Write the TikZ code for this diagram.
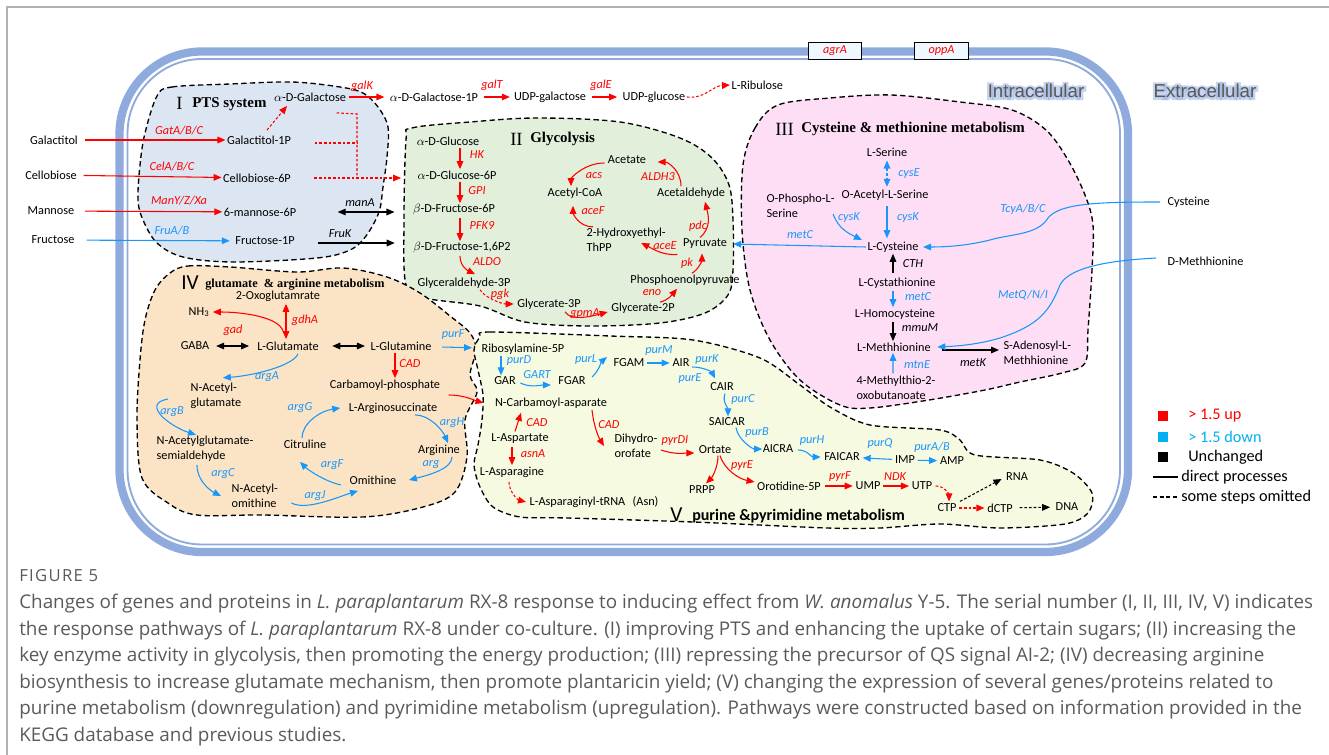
\documentclass[tikz,border=0pt]{standalone}
\usepackage{fontspec}
\setmainfont{Carlito}
\newfontfamily\serifb{Liberation Serif}
\newfontfamily\arialf{Liberation Sans}
\newfontfamily\arialglow[FakeBold=25]{Liberation Sans}
\newfontfamily\capf{Open Sans}
\newfontfamily\capfs[LetterSpace=8]{Open Sans}
\usetikzlibrary{arrows.meta,calc}
\definecolor{cblue}{RGB}{25,150,250}
\definecolor{band}{RGB}{143,170,220}
\definecolor{regI}{RGB}{220,230,243}
\definecolor{regII}{RGB}{226,239,218}
\definecolor{regIII}{RGB}{254,222,244}
\definecolor{regIV}{RGB}{251,228,198}
\definecolor{regV}{RGB}{245,250,224}
\definecolor{capgray}{RGB}{90,90,90}
\definecolor{legcyan}{RGB}{0,176,240}
\definecolor{ttlgray}{RGB}{90,90,90}
\definecolor{boxfill}{RGB}{240,248,255}
\newcommand\fs{\fontsize{9.2}{11}\selectfont}
\tikzset{
 t/.style={font=\fs, inner sep=1pt},
 gr/.style={font=\fs\itshape, text=red, inner sep=1pt},
 gb/.style={font=\fs\itshape, text=cblue, inner sep=1pt},
 gk/.style={font=\fs\itshape, inner sep=1pt},
 ar/.style={red, line width=0.8pt, -{Triangle[length=6pt,width=5pt]}},
 ab/.style={cblue, line width=0.8pt, -{Triangle[length=6pt,width=5pt]}},
 ak/.style={black, line width=0.8pt, -{Triangle[length=6pt,width=5pt]}},
 akk/.style={black, line width=0.8pt, {Triangle[length=6pt,width=5pt]}-{Triangle[length=6pt,width=5pt]}},
 arr/.style={red, line width=0.8pt, {Triangle[length=6pt,width=5pt]}-{Triangle[length=6pt,width=5pt]}},
 abbd/.style={cblue, line width=0.8pt, dash pattern=on 2pt off 1.5pt, {Triangle[length=6pt,width=5pt]}-{Triangle[length=6pt,width=5pt]}},
 ard/.style={ar, dash pattern=on 2pt off 1.5pt},
 akd/.style={ak, dash pattern=on 2pt off 1.5pt},
 rd/.style={red, line width=0.8pt, dash pattern=on 2pt off 1.5pt},
 regborder/.style={draw=black, line width=1pt, dash pattern=on 4pt off 2.5pt},
 ttl/.style={font=\serifb\bfseries\fontsize{11.2}{12}\selectfont, inner sep=0pt, anchor=west},
 rom/.style={font=\serifb\fontsize{14}{14}\selectfont, inner sep=0pt, anchor=west},
 legtxt/.style={font=\fontsize{12.2}{13}\selectfont, inner sep=0pt, anchor=west},
 captxt/.style={font=\capf\fontsize{14.15}{16}\selectfont, text=capgray, inner sep=0pt, anchor=west},
 genebox/.style={draw=black, fill=boxfill, line width=0.6pt, minimum width=40pt, minimum height=12.75pt, inner sep=0pt, font=\fs\itshape, text=red},
 side/.style={font=\arialf\fontsize{14}{14}\selectfont, text=ttlgray, inner sep=0pt},
 sideglow/.style={font=\arialglow\fontsize{14}{14}\selectfont, text=band, opacity=0.5, inner sep=0pt}
}
\begin{document}
\begin{tikzpicture}[x=0.75pt,y=-0.75pt]
\useasboundingbox (0,0) rectangle (1329,755);
% frame
\draw[gray!60, line width=1.2pt] (7,755) -- (7,7) -- (1329,7);
% cell
\draw[band, line width=6.2pt, rounded corners=62pt] (119.5,51.5) rectangle (1128,552);
\draw[band, line width=1.4pt, rounded corners=56pt] (127.5,59) rectangle (1120,544.5);
\node[genebox] (agra) at (835,50.5) {agrA};
\node[genebox] (oppa) at (941.5,50.5) {oppA};
% labels intra/extra
\node[sideglow] (intraglow) at (1036,91) {Intracellular};
\node[sideglow] (extraglow) at (1205,91) {Extracellular};
\node[side] (intra) at (1036,91) {Intracellular};
\node[side] (extra) at (1205,91) {Extracellular};

% ===== regions =====
\draw[regborder, fill=regI] plot[smooth cycle, tension=0.55] coordinates {(157,96) (172,87) (230,84) (292,82) (340,87) (363,93) (378,107) (388,127) (387,157) (383,187) (379,212) (366,236) (350,250) (317,258) (233,262) (183,257) (157,243) (143,220) (138,200) (140,165) (145,133)};
\draw[regborder, fill=regII] plot[smooth cycle, tension=0.55] coordinates {(406,140) (412,128) (470,122) (537,118) (620,122) (680,138) (712,158) (729,185) (733,220) (733,270) (728,295) (705,313) (660,323) (590,326) (525,322) (480,306) (425,298) (406,285) (404,220)};
\draw[regborder, fill=regIII] plot[smooth cycle, tension=0.55] coordinates {(743,165) (755,128) (778,105) (830,98) (891,95) (960,102) (1012,110) (1046,130) (1068,160) (1085,195) (1093,225) (1092,270) (1088,330) (1085,363) (1062,373) (1020,382) (985,390) (929,400) (870,408) (840,405) (800,380) (770,340) (750,290) (742,230)};
\draw[regborder, fill=regIV] plot[smooth cycle, tension=0.55] coordinates {(170,273) (188,266) (230,267) (297,272) (343,268) (387,277) (420,293) (450,316) (470,333) (476,350) (470,375) (477,392) (465,420) (467,457) (455,492) (423,507) (363,517) (263,515) (197,515) (168,503) (142,478) (137,420) (140,360) (145,320) (155,290)};
\draw[regborder, fill=regV] plot[smooth cycle, tension=0.5] coordinates {(480,337) (490,332) (610,336) (693,340) (760,358) (800,385) (830,407) (870,425) (940,430) (960,440) (975,455) (1040,460) (1073,473) (1092,493) (1088,513) (1065,524) (1000,528) (940,524) (880,528) (827,528) (693,522) (567,518) (520,517) (493,507) (480,487) (474,465) (478,445) (482,420) (483,395) (478,370) (474,350)};

% ===== titles =====
\node[rom] (tI) at (176,103) {I};
\node[ttl] (tIt) at (192,104) {PTS system};
\node[rom] (tII) at (510,139) {II};
\node[ttl] (tIIt) at (530,139) {Glycolysis};
\node[rom] (tIII) at (775,129) {III};
\node[ttl] (tIIIt) at (801,129) {Cysteine \& methionine metabolism};
\node[font=\fontsize{16}{16}\selectfont, inner sep=0pt, anchor=west] (tIV) at (181,283) {IV};
\node[font=\serifb\bfseries\fontsize{9.2}{10}\selectfont, inner sep=0pt, anchor=west] (tIVt) at (205,285) {glutamate \ \& arginine metabolism};
\node[font=\fontsize{16}{16}\selectfont, inner sep=0pt, anchor=west] (tV) at (670,515) {V};
\node[font=\bfseries\fontsize{12}{12}\selectfont, inner sep=0pt, anchor=west] (tVt) at (692,516) {purine \&pyrimidine metabolism};

% ===== Region I =====
\node[t] (galactitol) at (54,140) {Galactitol};
\node[t] (cellobiose) at (51,175) {Cellobiose};
\node[t] (mannose) at (51,211) {Mannose};
\node[t] (fructose) at (53,240) {Fructose};
\node[t] (agal) at (310,97) {$\alpha$-D-Galactose};
\node[t] (gal1p) at (259,140) {Galactitol-1P};
\node[t] (cel6p) at (257,178) {Cellobiose-6P};
\node[t] (man6p) at (260,212) {6-mannose-6P};
\node[t] (fru1p) at (265,241) {Fructose-1P};
\node[gr] (gGat) at (179,131) {GatA/B/C};
\node[gr] (gCel) at (172,167) {CelA/B/C};
\node[gr] (gMan) at (179,201) {ManY/Z/Xa};
\node[gb] (gFru) at (172,231) {FruA/B};
\node[gk] (gmanA) at (360,203) {manA};
\node[gk] (gFruK) at (340,234) {FruK};
\node[gr] (ggalK) at (362,86) {galK};
% top chain
\node[t] (ga1p) at (434,97) {$\alpha$-D-Galactose-1P};
\node[t] (udpgal) at (550,97) {UDP-galactose};
\node[t] (udpglc) at (654,97) {UDP-glucose};
\node[t,anchor=west] (ribu) at (730,85) {L-Ribulose};
\node[gr] (ggalT) at (492,85) {galT};
\node[gr] (ggalE) at (601,85) {galE};

\draw[ar, shorten <=4pt] (galactitol) -- (gal1p);
\draw[ar, shorten <=4pt] (cellobiose) -- (cel6p);
\draw[ar, shorten <=7pt] (mannose) -- (man6p);
\draw[ab, shorten <=8pt, shorten >=3pt] (fructose) -- (fru1p);
\draw[ar, shorten <=1pt, shorten >=3pt] (agal) -- (ga1p);
\draw[ar, shorten <=3pt, shorten >=2pt] (ga1p) -- (udpgal);
\draw[ar, shorten <=3pt, shorten >=3pt] (udpgal) -- (udpglc);
\draw[ard] (udpglc.east) .. controls (705,99) and (712,86) .. (ribu.west);
\draw[ard] ($(gal1p.north)+(8,-4)$) -- ($(agal.south)+(-23,3)$);
\coordinate (j1) at (357,114);
\coordinate (j2) at (357,143);
\coordinate (j3) at (357,178);
\draw[rd] ($(agal.south east)+(-11,10)$) -- (j1) -- (j3);
\draw[rd] ($(gal1p.east)+(22,3)$) -- (j2);

% ===== Region II =====
\node[t] (aglc) at (448,141) {$\alpha$-D-Glucose};
\node[t] (glc6p) at (457,175) {$\alpha$-D-Glucose-6P};
\node[t] (fru6p) at (454,210) {$\beta$-D-Fructose-6P};
\node[t] (fbp) at (462,248) {$\beta$-D-Fructose-1,6P2};
\node[t] (g3p) at (464,283) {Glyceraldehyde-3P};
\node[t] (gly3p) at (549,304) {Glycerate-3P};
\node[t] (gly2p) at (643,308) {Glycerate-2P};
\node[t] (pep) at (685,280) {Phosphoenolpyruvate};
\node[t] (pyr) at (705,244) {Pyruvate};
\node[t,align=left,anchor=west] (hethpp) at (585,240) {2-Hydroxyethyl-\\ThPP};
\node[t] (acoa) at (575,193) {Acetyl-CoA};
\node[t] (acet) at (627,160) {Acetate};
\node[t] (acald) at (691,193) {Acetaldehyde};
\node[gr] (gHK) at (477,155) {HK};
\node[gr] (gGPI) at (477,191) {GPI};
\node[gr] (gPFK) at (482,226) {PFK9};
\node[gr] (gALDO) at (487,262) {ALDO};
\node[gr] (gpgk) at (500,294) {pgk};
\node[gr] (ggpmA) at (585,314) {gpmA};
\node[gr] (geno) at (652,293) {eno};
\node[gr] (gpk) at (687,263) {pk};
\node[gr] (gaceE) at (665,246) {aceE};
\node[gr] (gaceF) at (593,211) {aceF};
\node[gr] (gacs) at (594,176) {acs};
\node[gr] (gALDH) at (658,177) {ALDH3};
\node[gr] (gpdc) at (698,226) {pdc};

\draw[ard] ($(cel6p.east)+(22,0)$) -- ($(glc6p.west)+(-15,3)$);
\draw[akk] ($(man6p.east)+(40,0)$) -- ($(fru6p.west)+(-17,2)$);
\draw[ak] ($(fru1p.east)+(22,2)$) -- ($(fbp.west)+(-17,-5)$);

\draw[ar] ($(aglc.south)+(12,1)$) -- ($(glc6p.north)+(3,0)$);
\draw[ar] ($(glc6p.south)+(3,1)$) -- ($(fru6p.north)+(6,0)$);
\draw[ar] ($(fru6p.south)+(6,1)$) -- ($(fbp.north)+(-2,0)$);
\draw[ar] ($(fbp.south)+(-2,1)$) .. controls +(0,10) and +(-8,-4) .. ($(g3p.north)+(11,-2)$);
\draw[ard] ($(g3p.south)+(16,0)$) .. controls +(5,8) and +(-12,0) .. ($(gly3p.west)+(-2,0)$);
\draw[ar] ($(gly3p.south)+(16,1)$) .. controls +(6,10) and +(-15,4) .. ($(gly2p.west)+(-2,4)$);
\draw[ar] ($(gly2p.north)+(17,1)$) .. controls +(8,-2) and +(-5,6) .. ($(pep.south)+(-8,2)$);
\draw[ar] ($(pep.north)+(7,0)$) .. controls +(6,-3) and +(0,7) .. ($(pyr.south)+(-3,3)$);
\draw[ar] ($(pyr.south west)+(-4,4)$) .. controls +(-15,1) and +(12,6) .. ($(hethpp.east)+(-26,3)$);
\draw[ar] ($(hethpp.north west)+(8,0)$) .. controls +(-15,0) and +(0,7) .. ($(acoa.south)+(-2,6)$);
\draw[ar] ($(acet.west)+(-2,3)$) .. controls +(-20,0) and +(0,-8) .. ($(acoa.north)+(-4,0)$);
\draw[ar] ($(acald.north)+(-10,0)$) .. controls +(0,-16) and +(10,0) .. ($(acet.east)+(10,2)$);
\draw[ar] ($(pyr.north)+(-5,0)$) .. controls +(12,-10) and +(3,12) .. ($(acald.south)+(14,2)$);

% ===== Region III =====
\node[t] (lser) at (887,152) {L-Serine};
\node[t] (oas) at (885,195) {O-Acetyl-L-Serine};
\node[t,align=left,anchor=west] (ops) at (765,206) {O-Phospho-L-\\Serine};
\node[t] (lcys) at (893,247) {L-Cysteine};
\node[t] (lcysta) at (897,283) {L-Cystathionine};
\node[t] (lhcys) at (895,314) {L-Homocysteine};
\node[t] (lmet) at (894,347) {L-Methhionine};
\node[t,align=left,anchor=west] (mtob) at (855,388) {4-Methylthio-2-\\oxobutanoate};
\node[t,align=left,anchor=west] (sam) at (1002,353) {S-Adenosyl-L-\\Methhionine};
\node[t,anchor=west] (cysx) at (1166,202) {Cysteine};
\node[t,anchor=west] (dmet) at (1166,261) {D-Methhionine};
\node[gb] (gcysE) at (909,174) {cysE};
\node[gb] (gcysK1) at (849,218) {cysK};
\node[gb] (gcysK2) at (908,218) {cysK};
\node[gb] (gTcy) at (1023,209) {TcyA/B/C};
\node[gb] (gmetC1) at (800,235) {metC};
\node[gk] (gCTH) at (913,264) {CTH};
\node[gb] (gmetC2) at (918,297) {metC};
\node[gk] (gmmuM) at (920,328) {mmuM};
\node[gb] (gmtnE) at (917,365) {mtnE};
\node[gk] (gmetK) at (973,363) {metK};
\node[gb] (gMetQ) at (1023,295) {MetQ/N/I};

\draw[abbd, shorten <=2pt, shorten >=1pt] (lser.south) -- ($(oas.north)+(2,0)$);
\draw[ab] ($(ops.east)+(-3,8)$) .. controls +(5,15) and +(-12,-6) .. ($(lcys.west)+(-4,-7)$);
\draw[ab, shorten <=3pt] ($(oas.south)+(2,0)$) -- ($(lcys.north)+(-6,-2)$);
\draw[ab, shorten >=2pt] (lcys.west) -- ($(pyr.east)+(2,0)$);
\draw[ak, shorten <=2pt] ($(lcysta.north)+(-4,0)$) -- (lcys.south);
\draw[ab, shorten <=1pt] ($(lcysta.south)+(-4,0)$) -- ($(lhcys.north)+(-2,0)$);
\draw[ak, shorten <=1pt] ($(lhcys.south)+(-2,0)$) -- ($(lmet.north)+(-1,0)$);
\draw[ab, shorten <=1pt] ($(mtob.north)+(-3,0)$) -- ($(lmet.south)+(-1,0)$);
\draw[ak] ($(lmet.east)+(10,3)$) -- ($(sam.west)+(-3,-3)$);
\draw[ab] ($(cysx.west)+(-6,0)$) .. controls (1100,202) and (1060,203) .. (1048,218) .. controls (1038,235) and (1010,234) .. (990,240) .. controls (970,245) and (950,247) .. ($(lcys.east)+(3,0)$);
\draw[ab] ($(dmet.west)+(-10,-3)$) .. controls (1120,260) and (1070,265) .. (1060,285) .. controls (1050,310) and (1040,325) .. (1000,338) .. controls (980,344) and (960,346) .. ($(lmet.east)+(5,0)$);

% ===== Region IV =====
\node[t] (oxo) at (278,296) {2-Oxoglutamrate};
\node[t] (nh3) at (199,312) {NH\textsubscript{3}};
\node[t] (gaba) at (195,346) {GABA};
\node[t] (lglu) at (288,346) {L-Glutamate};
\node[t] (lgln) at (401,346) {L-Glutamine};
\node[t] (carb) at (385,385) {Carbamoyl-phosphate};
\node[t,align=left,anchor=west] (nag) at (189,396) {N-Acetyl-\\glutamate};
\node[t,align=left,anchor=west] (nags) at (155,449) {N-Acetylglutamate-\\semialdehyde};
\node[t,align=left,anchor=west] (nao) at (230,496) {N-Acetyl-\\omithine};
\node[t] (orn) at (373,480) {Omithine};
\node[t] (citr) at (305,444) {Citruline};
\node[t] (args) at (393,408) {L-Arginosuccinate};
\node[t] (arg) at (439,450) {Arginine};
\node[gr] (ggdhA) at (305,320) {gdhA};
\node[gr] (ggad) at (233,330) {gad};
\node[gr] (gCAD1) at (410,364) {CAD};
\node[gb] (gargA) at (267,377) {argA};
\node[gb] (gpurF) at (453,335) {purF};
\node[gb] (gargB) at (172,412) {argB};
\node[gb] (gargC) at (223,474) {argC};
\node[gb] (gargJ) at (315,496) {argJ};
\node[gb] (gargF) at (332,465) {argF};
\node[gb] (gargG) at (300,408) {argG};
\node[gb] (gargH) at (452,423) {argH};
\node[gb] (garg) at (431,465) {arg};

\draw[arr] ($(oxo.south)+(8,1)$) -- ($(lglu.north)+(-2,-1)$);
\draw[ar] ($(lglu.north)+(-5,-9)$) .. controls +(-4,-14) and +(30,0) .. ($(nh3.east)+(2,0)$);
\draw[akk, shorten <=4pt, shorten >=5pt] (gaba) -- (lglu);
\draw[akk, shorten <=9pt, shorten >=3pt] (lglu) -- (lgln);
\draw[ar] ($(lgln.south)+(-6,1)$) -- ($(carb.north)+(10,0)$);
\draw[ab] ($(lglu.south)+(10,2)$) .. controls +(-5,12) and +(30,-2) .. ($(nag.north)+(7,-4)$);
\draw[ab] ($(nag.west)+(-21,3)$) .. controls +(-28,5) and +(-25,-8) .. ($(nags.north)+(-9,0)$);
\draw[ab] ($(nags.south)+(-8,2)$) .. controls +(0,16) and +(-10,-5) .. ($(nao.west)+(-9,0)$);
\draw[ab] ($(nao.east)+(12,7)$) .. controls +(15,8) and +(-20,6) .. ($(orn.south)+(-15,5)$);
\draw[ab] ($(orn.west)+(-7,5)$) .. controls +(-15,-3) and +(8,8) .. ($(citr.south)+(-5,12)$);
\draw[ab] ($(citr.north)+(-3,0)$) .. controls +(0,-15) and +(-20,3) .. ($(args.west)+(-7,0)$);
\draw[ab] ($(args.south)+(22,0)$) .. controls +(15,0) and +(-5,-12) .. ($(arg.north)+(9,0)$);
\draw[ab] ($(arg.south)+(13,0)$) .. controls +(0,12) and +(20,-5) .. ($(orn.east)+(11,0)$);

% ===== Region V =====
\node[t] (ribo) at (523,349) {Ribosylamine-5P};
\node[t] (gar) at (505,381) {GAR};
\node[t] (fgar) at (572,381) {FGAR};
\node[t] (fgam) at (629,363) {FGAM};
\node[t] (air) at (681,363) {AIR};
\node[t] (cair) at (722,387) {CAIR};
\node[t] (saicar) at (727,422) {SAICAR};
\node[t] (aicra) at (778,449) {AICRA};
\node[t] (faicar) at (842,457) {FAICAR};
\node[t] (imp) at (905,460) {IMP};
\node[t] (amp) at (952,461) {AMP};
\node[t] (ncarb) at (551,403) {N-Carbamoyl-asparate};
\node[t] (lasp) at (520,439) {L-Aspartate};
\node[t] (lasn) at (512,472) {L-Asparagine};
\node[t,anchor=west] (asntrna) at (528,502) {L-Asparaginyl-tRNA\hspace{0.6em}(Asn)};
\node[t,align=left,anchor=west] (dho) at (613,446) {Dihydro-\\orofate};
\node[t] (ort) at (715,450) {Ortate};
\node[t] (prpp) at (702,490) {PRPP};
\node[t] (omp) at (789,486) {Orotidine-5P};
\node[t] (ump) at (868,486) {UMP};
\node[t] (utp) at (922,486) {UTP};
\node[t] (ctp) at (947,508) {CTP};
\node[t] (dctp) at (1000,508) {dCTP};
\node[t] (dna) at (1067,507) {DNA};
\node[t] (rna) at (1017,477) {RNA};
\node[gb] (gpurD) at (519,361) {purD};
\node[gb] (gGART) at (537,375) {GART};
\node[gb] (gpurL) at (586,360) {purL};
\node[gb] (gpurM) at (659,351) {purM};
\node[gb] (gpurK) at (707,360) {purK};
\node[gb] (gpurE) at (690,379) {purE};
\node[gb] (gpurC) at (743,400) {purC};
\node[gb] (gpurB) at (757,433) {purB};
\node[gb] (gpurH) at (812,441) {purH};
\node[gb] (gpurQ) at (880,444) {purQ};
\node[gb] (gpurA) at (932,447) {purA/B};
\node[gr] (gCAD2) at (537,423) {CAD};
\node[gr] (gasnA) at (533,454) {asnA};
\node[gr] (gCAD3) at (609,425) {CAD};
\node[gr] (gpyrD) at (675,441) {pyrDI};
\node[gr] (gpyrE) at (742,466) {pyrE};
\node[gr] (gpyrF) at (840,477) {pyrF};
\node[gr] (gNDK) at (895,477) {NDK};

\draw[ab, shorten <=7pt, shorten >=6pt] (lgln) -- (ribo);
\draw[ar] ($(carb.east)+(7,10)$) .. controls +(15,0) and +(-10,-3) .. ($(ncarb.west)+(-10,0)$);
\draw[ab] ($(ribo.south)+(-22,0)$) -- ($(gar.north)+(-4,0)$);
\draw[ab] ($(gar.east)+(3,2)$) .. controls +(10,5) and +(-10,0) .. ($(fgar.west)+(-6,4)$);
\draw[ab] ($(fgar.east)+(5,-4)$) .. controls +(8,-8) and +(-6,5) .. ($(fgam.west)+(-5,-6)$);
\draw[ab, shorten <=1pt, shorten >=1pt] (fgam) -- (air);
\draw[ab] ($(air.east)+(1,4)$) .. controls +(12,0) and +(-3,-6) .. ($(cair.north)+(-7,-3)$);
\draw[ab] ($(cair.south)+(3,1)$) .. controls +(-3,8) and +(0,-8) .. ($(saicar.north)+(1,0)$);
\draw[ab] ($(saicar.south)+(9,0)$) .. controls +(2,12) and +(-10,0) .. ($(aicra.west)+(1,0)$);
\draw[ab] ($(aicra.east)+(3,1)$) .. controls +(10,0) and +(-10,0) .. ($(faicar.west)+(-2,0)$);
\draw[ab, shorten <=1pt, shorten >=1pt] (imp) -- (faicar);
\draw[ab, shorten <=1pt, shorten >=1pt] (imp) -- (amp);
\draw[ar] ($(lasp.north)+(-5,-1)$) -- ($(ncarb.south)+(-30,3)$);
\draw[ar] ($(lasp.south)+(-8,1)$) -- ($(lasn.north)+(0,0)$);
\draw[ard] ($(lasn.south)+(-3,3)$) .. controls +(0,10) and +(-8,-2) .. ($(asntrna.west)+(-2,0)$);
\draw[ar] ($(ncarb.south)+(41,0)$) .. controls +(2,18) and +(-5,-8) .. ($(dho.west)+(-9,0)$);
\draw[ar] ($(dho.east)+(2,4)$) .. controls +(15,5) and +(-10,0) .. ($(ort.west)+(-3,3)$);
\draw[ar] ($(ort.south)+(3,0)$) .. controls +(0,12) and +(6,-6) .. ($(prpp.north)+(4,-1)$);
\draw[ar] ($(ort.south)+(5,0)$) .. controls +(5,15) and +(-15,-3) .. ($(omp.west)+(-1,-4)$);
\draw[ar, shorten <=2pt, shorten >=1pt] (omp) -- (ump);
\draw[ar, shorten <=1pt, shorten >=1pt] (ump) -- (utp);
\draw[ard] ($(utp.east)+(2,0)$) .. controls +(10,0) and +(0,-6) .. ($(ctp.north)+(2,-1)$);
\draw[ard, shorten <=1pt, shorten >=1pt] (ctp) -- (dctp);
\draw[akd] ($(ctp.north east)+(2,-1)$) -- ($(rna.west)+(-3,2)$);
\draw[akd, shorten <=4pt, shorten >=3pt] (dctp) -- (dna);

% ===== legend =====
\fill[red] (1158,411) rectangle (1168,421);
\fill[legcyan] (1158,432) rectangle (1168,442);
\fill[black] (1158,452) rectangle (1168,462);
\node[legtxt, text=red] (lup) at (1188,416) {> 1.5 up};
\node[legtxt, text=legcyan] (ldown) at (1188,437) {> 1.5 down};
\node[legtxt] (lun) at (1188,457) {Unchanged};
\node[legtxt] (ldir) at (1181,477) {direct processes};
\node[legtxt] (lsome) at (1181,497) {some steps omitted};
\coordinate (l1a) at (1153,477);
\coordinate (l2a) at (1153,497);
\draw[line width=0.9pt, shorten >=2.5pt] (l1a) -- (ldir.west);
\draw[line width=0.9pt, dash pattern=on 3pt off 2pt, shorten >=2.5pt] (l2a) -- (lsome.west);

% ===== caption =====
\node[font=\capfs\fontsize{12.5}{13}\selectfont, text=capgray, inner sep=0pt, anchor=west] (fig) at (19,576) {FIGURE 5};
\node[captxt] (c1) at (19,604) {Changes of genes and proteins in \textit{L. paraplantarum} RX-8 response to inducing effect from \textit{W. anomalus} Y-5. The serial number (I, II, III, IV, V) indicates};
\node[captxt] (c2) at (19,631) {the response pathways of \textit{L. paraplantarum} RX-8 under co-culture. (I) improving PTS and enhancing the uptake of certain sugars; (II) increasing the};
\node[captxt] (c3) at (19,657) {key enzyme activity in glycolysis, then promoting the energy production; (III) repressing the precursor of QS signal AI-2; (IV) decreasing arginine};
\node[captxt] (c4) at (19,684) {biosynthesis to increase glutamate mechanism, then promote plantaricin yield; (V) changing the expression of several genes/proteins related to};
\node[captxt] (c5) at (19,710) {purine metabolism (downregulation) and pyrimidine metabolism (upregulation). Pathways were constructed based on information provided in the};
\node[captxt] (c6) at (19,737) {KEGG database and previous studies.};
\end{tikzpicture}
\end{document}
